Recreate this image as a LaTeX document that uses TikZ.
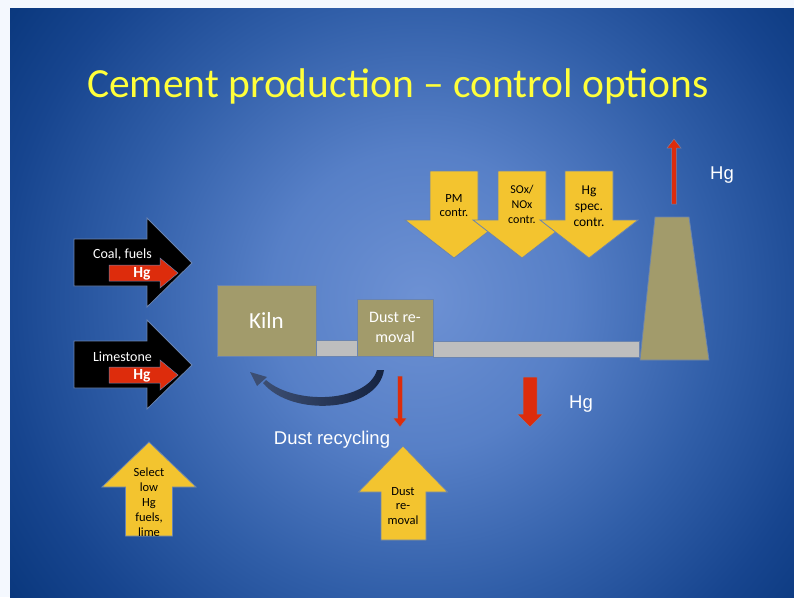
\documentclass[tikz,border=0pt]{standalone}
\usepackage{fontspec}
\setmainfont{Carlito}
\newfontfamily\arialf{Liberation Sans}
\usetikzlibrary{arrows.meta}
\definecolor{marginc}{HTML}{F4F8FE}
\definecolor{titley}{HTML}{FFFF3A}
\definecolor{yell}{HTML}{F3C42F}
\definecolor{olive}{HTML}{A29B6B}
\definecolor{duct}{HTML}{BEBEBE}
\definecolor{redc}{HTML}{DD2C0C}
\definecolor{edgec}{HTML}{6A84B0}
\definecolor{navyc}{HTML}{1E2D50}
\definecolor{navyl}{HTML}{3C4E72}
\definecolor{navyd}{HTML}{152340}
\pgfdeclareradialshading{bgshade}{\pgfpoint{0bp}{0bp}}{rgb(0bp)=(0.43,0.57,0.83); rgb(7.2bp)=(0.34,0.50,0.78); rgb(14.4bp)=(0.19,0.37,0.66); rgb(20.2bp)=(0.09,0.27,0.56); rgb(25bp)=(0.03,0.21,0.48); rgb(50bp)=(0.03,0.21,0.48)}
\tikzset{
  shp/.style={draw=edgec, line width=0.8pt},
  yarrow/.style={shp, fill=yell},
  rarrow/.style={draw=edgec, line width=0.5pt, fill=redc},
  btxt/.style={text=black, align=center, inner sep=0pt},
  wtxt/.style={text=white, align=center, inner sep=0pt},
}
\begin{document}
\begin{tikzpicture}[x=1pt,y=-1pt]
\useasboundingbox (0,0) rectangle (794,597);
\fill[marginc] (0,0) rectangle (794,597);
\begin{scope}
  \clip (10,8) rectangle (794,597);
  \shade[shading=bgshade] (420,300) circle[radius=520pt];
\end{scope}
% title
\node[text=titley, font=\fontsize{41.5}{50}\selectfont, inner sep=0pt] (title) at (398,86) {Cement production – control options};
% black input arrows
\foreach \dy/\lab/\nm in {0/{Coal, fuels}/coal, 102/Limestone/lime}{
  \begin{scope}[yshift=-\dy pt]
    \fill[black, draw=edgec, line width=0.8pt] (74,239) -- (147,239) -- (147,218) -- (192,263) -- (147,307) -- (147,286) -- (74,286) -- cycle;
    \path[rarrow] (109,265) -- (160,265) -- (160,258) -- (178,273) -- (160,288) -- (160,281) -- (109,281) -- cycle;
    \node[wtxt, font=\fontsize{14}{16}\selectfont] (\nm txt) at (122.5,255) {\lab};
    \node[wtxt, font=\bfseries\fontsize{15.5}{17}\selectfont] (\nm hg) at (142,273.5) {Hg};
  \end{scope}
}
% plant
\node[shp, fill=olive, minimum width=99pt, minimum height=71pt, inner sep=0pt, text=white, font=\fontsize{23}{26}\selectfont] (kiln) at (266.5,320.5) {Kiln};
\path[shp, fill=duct] (316,340) rectangle (357,356);
\node[shp, fill=olive, minimum width=76pt, minimum height=57pt, inner sep=0pt, text=white, align=center, font=\fontsize{16}{20}\selectfont] (dust) at (395,327.5) {Dust re-\\moval};
\path[shp, fill=duct] (433,341) rectangle (639,357);
\path[shp, fill=olive] (640,360) -- (655,217) -- (689,217) -- (709,360) -- cycle;
% red arrows
\path[rarrow] (671.5,204) -- (671.5,148) -- (667,148) -- (674,139) -- (681,148) -- (676.5,148) -- (676.5,204) -- cycle;
\path[rarrow] (397.5,376) -- (402.5,376) -- (402.5,418) -- (407,418) -- (400,427) -- (393,418) -- (397.5,418) -- cycle;
\path[rarrow] (523,377) -- (537,377) -- (537,414) -- (543,414) -- (530,427) -- (517,414) -- (523,414) -- cycle;
% curved recycle arrow
\shade[left color=navyl, right color=navyd] (384,370) .. controls (378,412) and (292,418) .. (263,383) -- (266,380) .. controls (296,406) and (368,402) .. (377,370) -- cycle;
\fill[navyl] (250,372) -- (267,377) -- (257,386) -- cycle;
% yellow down arrows
\foreach \cx/\nm in {454/pm, 522/sox, 589/hgs}{
  \path[yarrow] (\cx-24,171) -- (\cx+24,171) -- (\cx+24,220) -- (\cx+49,220) -- (\cx,258) -- (\cx-49,220) -- (\cx-24,220) -- cycle;
}
\node[btxt, font=\fontsize{12.5}{14}\selectfont] (pmt) at (454,206) {PM\\contr.};
\node[btxt, font=\fontsize{12}{15}\selectfont] (soxt) at (522,204) {SOx/\\NOx\\contr.};
\node[btxt, font=\fontsize{13.5}{16}\selectfont] (hgst) at (589,206) {Hg\\spec.\\contr.};
% yellow up arrows
\path[yarrow] (149,442) -- (196,487) -- (172.5,487) -- (172.5,536) -- (125.5,536) -- (125.5,487) -- (102,487) -- cycle;
\node[btxt, font=\fontsize{12.5}{15}\selectfont] (selt) at (149,502) {Select\\low\\Hg\\fuels,\\lime};
\path[yarrow] (403,446) -- (447.5,492) -- (426,492) -- (426,540) -- (381,540) -- (381,492) -- (358.5,492) -- cycle;
\node[btxt, font=\fontsize{12.5}{14.5}\selectfont] (dustt) at (403,506) {Dust\\re-\\moval};
% labels
\node[wtxt, font=\arialf\fontsize{18.5}{21}\selectfont] (recy) at (332,440) {Dust recycling};
\node[wtxt, font=\arialf\fontsize{18.5}{21}\selectfont] (hg1) at (581,404) {Hg};
\node[wtxt, font=\arialf\fontsize{18.5}{21}\selectfont] (hg2) at (722,175) {Hg};
\end{tikzpicture}
\end{document}
